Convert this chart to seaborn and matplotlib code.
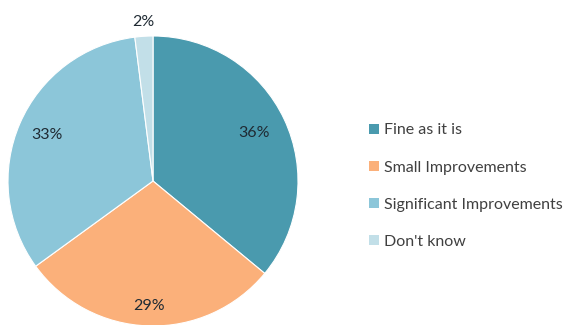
import matplotlib
matplotlib.use("Agg")
import matplotlib.pyplot as plt
import numpy as np
import seaborn as sns

categories = ["Fine as it is", "Small Improvements", "Significant Improvements", "Don't know"]
shares = [36, 29, 33, 2]
colors = ["#4a9aae", "#fbb07a", "#8cc6d9", "#c2dfe8"]
# radial placement of each percentage label, as a fraction of the radius
label_radius = [0.77, 0.86, 0.80, 1.10]

sns.set_theme(style="white")
plt.rcParams["font.family"] = ["Lato", "DejaVu Sans"]

W, H = 568, 325
fig = plt.figure(figsize=(W / 100, H / 100), dpi=100)
fig.patch.set_facecolor("white")

cx, cy, r = 153, 181, 145
ax = fig.add_axes([(cx - r) / W, (H - cy - r) / H, 2 * r / W, 2 * r / H])

wedges, _ = ax.pie(
    shares,
    colors=sns.color_palette(colors),
    startangle=90,
    counterclock=False,
    radius=1,
    wedgeprops=dict(edgecolor="white", linewidth=0.8),
)
ax.set_xlim(-1, 1)
ax.set_ylim(-1, 1)
ax.set_aspect("equal")
ax.axis("off")

for w, val, lr in zip(wedges, shares, label_radius):
    mid = np.deg2rad((w.theta1 + w.theta2) / 2)
    ax.text(lr * np.cos(mid), lr * np.sin(mid), f"{val}%",
            ha="center", va="center", fontsize=11.5, color="#1f2a33",
            clip_on=False)

handles = [plt.Rectangle((0, 0), 1, 1, facecolor=c, edgecolor="none") for c in colors]
leg = fig.legend(
    handles, categories,
    loc="upper left",
    bbox_to_anchor=(355 / W, 1 - 109 / H),
    frameon=False,
    fontsize=11.5,
    handlelength=0.6,
    handleheight=0.6,
    handletextpad=0.3,
    labelspacing=1.45,
    labelcolor="#404040",
)

fig.savefig("out.png", dpi=100, facecolor="white")
